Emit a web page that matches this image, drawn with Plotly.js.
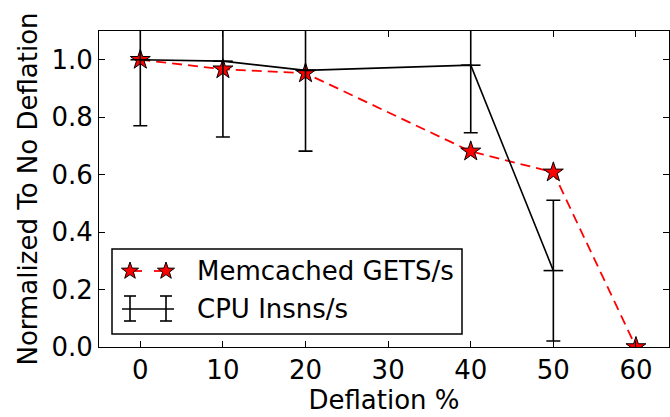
<!DOCTYPE html>
<html><head><meta charset="utf-8">
<script src="https://cdn.plot.ly/plotly-3.0.1.min.js"></script>
<style>body{margin:0;padding:0;background:#fff}#chart{width:670px;height:417px}</style>
</head><body><div id="chart"></div>
<script>
const memX = [0, 10, 20, 40, 50, 60];
const memY = [1.0, 0.967, 0.953, 0.681, 0.608, 0.0];
const cpuX = [0, 10, 20, 40, 50];
const cpuY = [1.0, 0.995, 0.963, 0.981, 0.266];
const cpuErr = [0.23, 0.264, 0.281, 0.235, 0.245];
const xTicks = [0, 10, 20, 30, 40, 50, 60];
const yTicks = [0.0, 0.2, 0.4, 0.6, 0.8, 1.0];
const seriesNames = ['Memcached GETS/s', 'CPU Insns/s'];

const font = {family: 'DejaVu Sans', size: 26, color: '#000'};
const traces = [
  {x: memX, y: memY, name: seriesNames[0], type: 'scatter', mode: 'lines+markers',
   line: {color: 'red', dash: '10px,6px', width: 1.8},
   marker: {symbol: 'star', size: 15, color: 'red', line: {color: '#000', width: 1}}},
  {x: cpuX, y: cpuY, name: seriesNames[1], type: 'scatter', mode: 'lines+markers',
   line: {color: '#000', width: 1.6},
   marker: {symbol: 'line-ew', size: 14, color: '#000', line: {color: '#000', width: 1.6}},
   error_y: {type: 'data', array: cpuErr, visible: true, color: '#000', thickness: 1.6, width: 7}}
];

// Manual matplotlib-style legend (decoration only)
const PL = 99, PT = 31, PW = 570, PH = 316;
const px = v => (v - PL) / PW;
const py = v => (PT + PH - v) / PH;
function starPath(r) {
  let d = '';
  for (let i = 0; i < 10; i++) {
    const rad = i % 2 === 0 ? r : r * 0.4;
    const a = Math.PI / 2 + i * Math.PI / 5;
    d += (i === 0 ? 'M' : 'L') + (rad * Math.cos(a)).toFixed(2) + ',' + (rad * Math.sin(a)).toFixed(2);
  }
  return d + 'Z';
}
const shapes = [
  {type: 'rect', xref: 'paper', yref: 'paper', x0: px(112), x1: px(462), y0: py(334), y1: py(249),
   line: {color: '#000', width: 1.5}, fillcolor: '#fff', layer: 'above'},
  {type: 'line', xref: 'paper', yref: 'paper', x0: px(130), x1: px(142), y0: py(271), y1: py(271),
   line: {color: 'red', width: 1.8}, layer: 'above'},
  {type: 'line', xref: 'paper', yref: 'paper', x0: px(154), x1: px(167), y0: py(271), y1: py(271),
   line: {color: 'red', width: 1.8}, layer: 'above'},
  {type: 'line', xref: 'paper', yref: 'paper', x0: px(122), x1: px(174), y0: py(309), y1: py(309),
   line: {color: '#000', width: 1.6}, layer: 'above'}
];
[130, 166].forEach(cx => {
  shapes.push({type: 'path', xref: 'paper', yref: 'paper', xsizemode: 'pixel', ysizemode: 'pixel',
    xanchor: px(cx), yanchor: py(271), path: starPath(9), fillcolor: 'red', line: {color: '#000', width: 1}, layer: 'above'});
  shapes.push({type: 'line', xref: 'paper', yref: 'paper', x0: px(cx), x1: px(cx), y0: py(296), y1: py(321),
    line: {color: '#000', width: 1.6}, layer: 'above'});
  [296, 321].forEach(cy => shapes.push({type: 'line', xref: 'paper', yref: 'paper', x0: px(cx - 6), x1: px(cx + 6),
    y0: py(cy), y1: py(cy), line: {color: '#000', width: 1.6}, layer: 'above'}));
});
const annotations = seriesNames.map((t, i) => ({
  text: t, xref: 'paper', yref: 'paper', x: px(195), y: py(i === 0 ? 271 : 309), xanchor: 'left', yanchor: 'middle',
  showarrow: false, font: font
}));

const axBase = {showgrid: false, zeroline: false, showline: true, mirror: 'ticks', linecolor: '#000', linewidth: 1,
  ticks: 'inside', ticklen: 6, tickcolor: '#000', tickfont: font};
const layout = {
  width: 670, height: 417,
  margin: {l: 99, r: 1, t: 31, b: 70},
  paper_bgcolor: '#fff', plot_bgcolor: '#fff',
  showlegend: false,
  font: font,
  xaxis: Object.assign({}, axBase, {range: [-5, 64], tickvals: xTicks, ticktext: xTicks.map(String),
    title: {text: 'Deflation %', font: font, standoff: 2}}),
  yaxis: Object.assign({}, axBase, {range: [0, 1.1], tickvals: yTicks, ticktext: yTicks.map(v => v.toFixed(1)),
    title: {text: 'Normalized To No Deflation', font: font, standoff: 6}}),
  shapes: shapes, annotations: annotations
};
Plotly.newPlot('chart', traces, layout, {displayModeBar: false});
</script></body></html>
